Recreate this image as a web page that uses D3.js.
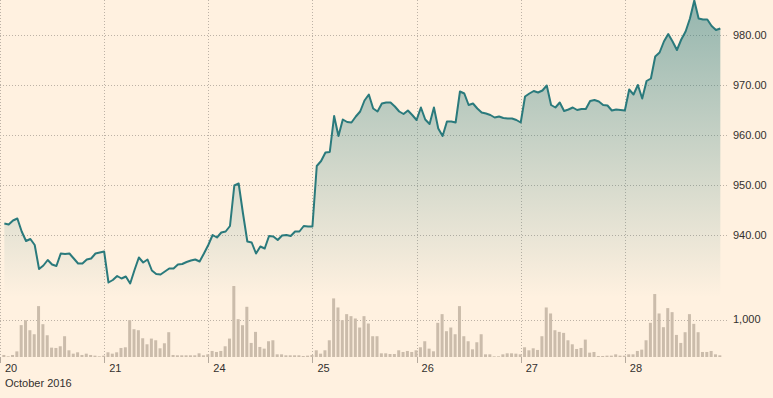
<!DOCTYPE html>
<html>
<head>
<meta charset="utf-8">
<script src="https://cdn.jsdelivr.net/npm/d3@7"></script>
<style>
body{margin:0;background:#fff1e0;}
svg{display:block;font-family:"Liberation Sans",Arial,sans-serif;}
</style>
</head>
<body>
<svg id="chart" width="773" height="398"></svg>
<script>
// intraday price, 24 points a day (28th is partial)
var days=["20","21","24","25","26","27","28"]
var monthLabel="October 2016"
var price=[
942.3,942.1,942.9,943.3,940.7,938.8,939.2,938.0,933.2,933.9,935.0,934.1,933.8,936.3,936.2,936.3,935.3,934.3,934.3,935.1,935.3,936.3,936.5,936.7,
930.5,931.0,931.8,931.3,931.7,930.3,933.0,935.5,934.5,935.1,932.9,932.2,932.1,932.7,933.3,933.3,934.1,934.2,934.6,934.9,935.1,934.7,936.3,938.0,
940.0,939.5,940.5,940.7,941.8,949.9,950.3,944.3,938.7,938.5,936.3,937.7,937.3,939.8,939.7,939.0,939.9,940.0,939.8,940.7,940.7,941.8,941.7,941.7,
953.8,954.8,956.5,956.6,963.8,959.8,963.1,962.6,962.5,963.7,964.7,966.9,968.1,965.3,964.7,966.3,966.5,966.5,965.7,964.7,964.2,964.9,964.0,963.0,
965.5,963.1,962.2,965.5,961.3,959.8,962.7,962.7,962.5,968.7,968.3,966.0,966.3,965.3,964.5,964.3,964.0,963.5,963.7,963.4,963.3,963.3,963.0,962.5,
967.7,968.3,968.8,968.5,968.9,969.9,966.0,965.5,966.5,964.8,965.1,965.5,965.0,965.2,965.2,966.8,967.0,966.7,966.0,965.9,964.9,965.1,965.0,964.9,
969.1,968.1,970.0,967.3,970.8,971.3,975.7,976.5,978.7,980.2,978.7,977.0,979.1,980.7,983.3,986.9,983.3,983.1,983.1,981.8,981.0,981.3
]
var volume=[
54,18,54,150,850,980,714,607,1357,875,580,250,241,286,554,179,89,125,54,89,54,36,18,36,
125,89,125,241,259,982,741,714,500,339,491,446,232,366,661,54,45,45,45,45,45,98,45,71,
161,134,161,286,491,1893,1009,848,1339,375,670,268,223,420,446,71,71,45,45,45,45,27,36,54,
179,89,179,446,1563,1321,982,1143,1089,1027,786,1089,893,554,554,98,98,80,80,179,134,161,134,179,
259,420,223,152,911,1143,688,786,607,1357,554,420,205,393,607,71,71,18,18,71,98,98,89,71,
259,179,232,188,554,1321,1161,714,670,643,446,339,214,241,464,116,134,27,27,36,36,71,36,36,
71,71,161,196,446,911,1679,1161,795,1304,1196,589,375,661,1143,884,661,134,134,161,71,45
]
var priceTicks=[940,950,960,970,980]
var volTicks=[1000]

var svg=d3.select("#chart")
var W=773,H=398
var plotRight=728,labelX=733
var perDay=24

var x=d3.scaleLinear().domain([-1,days.length*perDay-1]).range([0,729])
var y=d3.scaleLinear().domain([929,987]).range([290,0])
var yv=d3.scaleLinear().domain([0,2000]).range([357,282])
var areaBase=927.5

svg.append("rect").attr("width",W).attr("height",H).attr("fill","#fff1e0")

var defs=svg.append("defs")
var grad=defs.append("linearGradient").attr("id","areaGrad")
  .attr("gradientUnits","userSpaceOnUse").attr("x1",0).attr("x2",0).attr("y1",0).attr("y2",y(areaBase))
grad.append("stop").attr("offset","0%").attr("stop-color","#2a7a7c").attr("stop-opacity",0.5)
grad.append("stop").attr("offset","100%").attr("stop-color","#2a7a7c").attr("stop-opacity",0)

var gridClr="#bdb2a6"
// horizontal grid
svg.selectAll(".hgrid").data(priceTicks).enter().append("line")
  .attr("x1",0).attr("x2",plotRight)
  .attr("y1",d=>Math.round(y(d))+0.5).attr("y2",d=>Math.round(y(d))+0.5)
  .attr("stroke",gridClr).attr("stroke-dasharray","1,2")
svg.selectAll(".vgridh").data(volTicks).enter().append("line")
  .attr("x1",0).attr("x2",plotRight)
  .attr("y1",d=>Math.round(yv(d))+0.5).attr("y2",d=>Math.round(yv(d))+0.5)
  .attr("stroke",gridClr).attr("stroke-dasharray","1,2")

// day separators
var dayIdx=days.map((d,i)=>i*perDay-1)
svg.selectAll(".dgrid").data(dayIdx).enter().append("line")
  .attr("x1",d=>Math.round(x(d))+0.5).attr("x2",d=>Math.round(x(d))+0.5)
  .attr("y1",0).attr("y2",yv(0))
  .attr("stroke",gridClr).attr("stroke-dasharray","1,2")
svg.selectAll(".dtick").data(dayIdx).enter().append("line")
  .attr("x1",d=>Math.round(x(d))+0.5).attr("x2",d=>Math.round(x(d))+0.5)
  .attr("y1",yv(0)).attr("y2",yv(0)+6)
  .attr("stroke","#b5aa9d")

// price area + line
var area=d3.area().x((d,i)=>x(i)).y0(y(areaBase)).y1(d=>y(d))
var line=d3.line().x((d,i)=>x(i)).y(d=>y(d))
svg.append("path").datum(price).attr("d",area).attr("fill","url(#areaGrad)")
svg.append("path").datum(price).attr("d",line).attr("fill","none")
  .attr("stroke","#2a7a7c").attr("stroke-width",2).attr("stroke-linejoin","round")

// volume bars
svg.selectAll(".vol").data(volume).enter().append("rect")
  .attr("x",(d,i)=>x(i)-2).attr("width",3)
  .attr("y",d=>yv(d)).attr("height",d=>yv(0)-yv(d))
  .attr("fill","#cbbcab")

// axis labels
var txtClr="#33302e"
svg.selectAll(".plab").data(priceTicks).enter().append("text")
  .attr("x",labelX).attr("y",d=>y(d)).attr("dy","0.35em")
  .attr("font-size",11).attr("fill",txtClr)
  .text(d3.format(".2f"))
svg.selectAll(".vlab").data(volTicks).enter().append("text")
  .attr("x",labelX).attr("y",d=>yv(d)).attr("dy","0.35em")
  .attr("font-size",11).attr("fill",txtClr)
  .text(d3.format(","))
svg.selectAll(".dlab").data(days).enter().append("text")
  .attr("x",(d,i)=>x(dayIdx[i])+5).attr("y",372)
  .attr("font-size",11).attr("fill",txtClr)
  .text(d=>d)
svg.append("text").attr("x",x(dayIdx[0])+5).attr("y",387)
  .attr("font-size",11).attr("fill",txtClr).text(monthLabel)
</script>
</body>
</html>
